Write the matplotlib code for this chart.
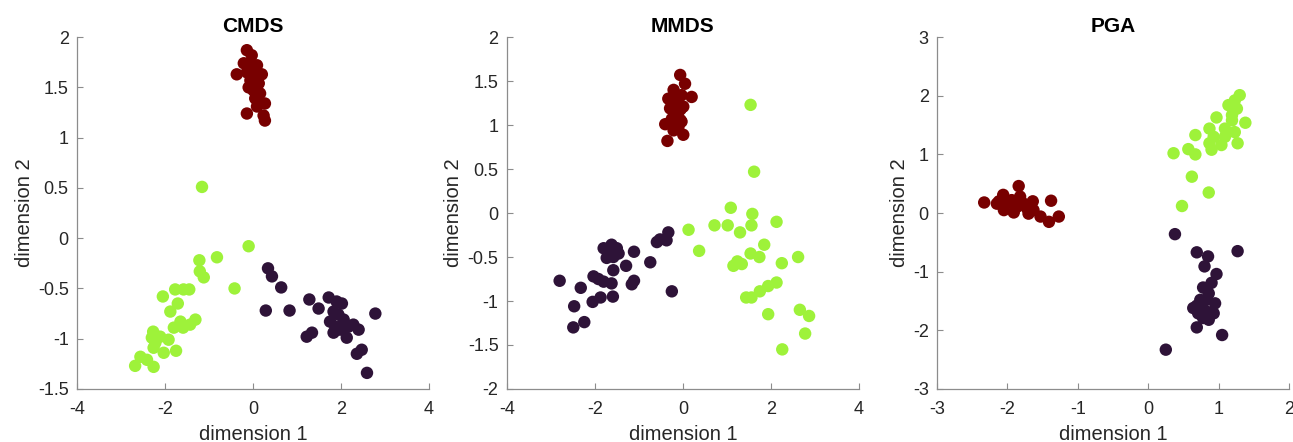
import numpy as np
import matplotlib
matplotlib.use("Agg")
import matplotlib.pyplot as plt

plt.rcParams['font.family'] = ['Liberation Sans', 'DejaVu Sans']

# colours of the three groups
c_red = '#780000'
c_purple = '#2e1338'
c_green = '#9ef23a'

# ---- CMDS ----
cmds_red_x = [-0.14, -0.03, -0.21, -0.10, 0.09, -0.37, -0.14, 0.01, 0.20, -0.06, 0.13, 0.01,
              0.16, 0.05, 0.27, -0.14, 0.24, 0.27, -0.03, -0.10, 0.09, 0.00, 0.05, 0.10]
cmds_red_y = [1.87, 1.82, 1.74, 1.72, 1.72, 1.63, 1.65, 1.64, 1.63, 1.57, 1.54, 1.47,
              1.44, 1.39, 1.34, 1.24, 1.22, 1.17, 1.60, 1.50, 1.31, 1.68, 1.55, 1.42]
cmds_green_x = [-1.16, -0.10, -1.22, -0.82, -1.21, -1.12, -0.42, -1.77, -1.58, -1.45, -2.05,
                -1.71, -1.88, -1.31, -1.65, -1.43, -1.59, -2.27, -2.11, -1.92, -2.22, -2.26,
                -2.03, -1.75, -2.56, -2.41, -2.68, -2.26, -2.30, -1.80]
cmds_green_y = [0.51, -0.08, -0.22, -0.19, -0.33, -0.39, -0.50, -0.51, -0.51, -0.51, -0.58,
                -0.65, -0.73, -0.81, -0.83, -0.86, -0.89, -0.93, -0.98, -1.01, -1.04, -1.09,
                -1.14, -1.12, -1.18, -1.21, -1.27, -1.28, -0.99, -0.89]
cmds_purple_x = [0.34, 0.43, 0.64, 1.28, 0.29, 0.83, 1.49, 1.72, 1.90, 1.83, 2.02, 1.75,
                 1.87, 1.98, 2.17, 1.83, 2.13, 2.40, 2.47, 2.36, 2.78, 1.34, 1.22, 2.59,
                 2.06, 2.28, 1.94]
cmds_purple_y = [-0.30, -0.38, -0.49, -0.61, -0.72, -0.72, -0.70, -0.59, -0.63, -0.73, -0.65,
                 -0.83, -0.88, -0.91, -0.88, -0.94, -0.99, -0.91, -1.11, -1.15, -0.75, -0.94,
                 -0.98, -1.34, -0.81, -0.86, -0.76]

# ---- MMDS ----
mmds_red_x = [-0.06, 0.05, -0.21, -0.03, 0.20, -0.33, -0.14, -0.29, 0.01, -0.18, -0.06,
              -0.40, -0.03, -0.21, 0.01, -0.35, -0.10, -0.25, -0.10, -0.12, -0.05]
mmds_red_y = [1.57, 1.47, 1.40, 1.34, 1.32, 1.30, 1.24, 1.19, 1.21, 1.11, 1.06, 1.01, 1.04,
              0.94, 0.89, 0.82, 0.98, 1.07, 1.15, 1.28, 1.18]
mmds_green_x = [1.54, 1.62, 1.09, 1.58, 2.13, 0.72, 1.02, 1.56, 0.13, 1.30, 1.85, 0.37,
                1.54, 1.74, 2.62, 2.25, 1.15, 1.34, 1.24, 2.13, 1.94, 1.75, 1.56, 1.44,
                2.66, 1.94, 2.87, 2.78, 2.26]
mmds_green_y = [1.23, 0.47, 0.06, -0.01, -0.10, -0.14, -0.14, -0.14, -0.19, -0.22, -0.36,
                -0.43, -0.46, -0.50, -0.50, -0.57, -0.60, -0.58, -0.55, -0.79, -0.83, -0.89,
                -0.96, -0.96, -1.10, -1.15, -1.17, -1.37, -1.55]
mmds_purple_x = [-0.33, -0.37, -0.59, -0.52, -1.11, -1.62, -1.80, -1.50, -1.73, -1.58,
                 -0.74, -1.29, -1.58, -2.03, -1.92, -1.80, -1.62, -1.11, -1.16, -2.80,
                 -2.32, -0.25, -1.87, -2.05, -1.59, -2.47, -2.24, -2.49, -1.65, -1.46]
mmds_purple_y = [-0.22, -0.31, -0.33, -0.30, -0.44, -0.36, -0.40, -0.40, -0.51, -0.50,
                 -0.56, -0.60, -0.65, -0.72, -0.75, -0.78, -0.80, -0.77, -0.81, -0.77,
                 -0.85, -0.89, -0.96, -1.01, -0.95, -1.06, -1.24, -1.30, -0.42, -0.46]

# ---- PGA ----
pga_red_x = [-2.33, -2.12, -2.06, -2.08, -2.05, -1.98, -1.91, -1.84, -1.82, -1.77, -1.72,
             -1.64, -1.63, -1.53, -1.41, -1.38, -1.27, -1.94, -2.15, -1.86, -1.70]
pga_red_y = [0.18, 0.20, 0.31, 0.14, 0.05, 0.18, 0.01, 0.46, 0.28, 0.16, 0.08, 0.20, 0.05,
             -0.06, -0.15, 0.21, -0.06, 0.22, 0.16, 0.11, -0.01]
pga_green_x = [1.30, 1.23, 1.14, 1.26, 0.97, 1.38, 1.19, 0.87, 1.09, 0.67, 1.23, 0.93,
               0.87, 1.04, 1.27, 0.90, 0.36, 0.57, 0.67, 0.62, 0.86, 0.48, 1.19, 1.09]
pga_green_y = [2.01, 1.92, 1.84, 1.78, 1.63, 1.54, 1.58, 1.44, 1.44, 1.33, 1.38, 1.30,
               1.19, 1.16, 1.19, 1.08, 1.02, 1.09, 1.00, 0.62, 0.35, 0.12, 1.67, 1.30]
pga_purple_x = [0.38, 0.69, 1.27, 0.85, 0.80, 0.97, 0.90, 0.78, 0.86, 0.69, 0.95, 0.76,
                0.83, 0.93, 0.64, 0.71, 0.78, 0.86, 0.69, 1.05, 0.25, 0.83, 0.74]
pga_purple_y = [-0.36, -0.67, -0.65, -0.74, -0.91, -1.04, -1.19, -1.27, -1.37, -1.58, -1.54,
                -1.62, -1.68, -1.71, -1.62, -1.71, -1.79, -1.82, -1.95, -2.08, -2.33, -1.48,
                -1.48]

panels = [
    ("CMDS", (-4, 4), (-1.5, 2), np.arange(-4, 5, 2), np.arange(-1.5, 2.01, 0.5),
     [(cmds_red_x, cmds_red_y, c_red), (cmds_green_x, cmds_green_y, c_green),
      (cmds_purple_x, cmds_purple_y, c_purple)]),
    ("MMDS", (-4, 4), (-2, 2), np.arange(-4, 5, 2), np.arange(-2, 2.01, 0.5),
     [(mmds_red_x, mmds_red_y, c_red), (mmds_green_x, mmds_green_y, c_green),
      (mmds_purple_x, mmds_purple_y, c_purple)]),
    ("PGA", (-3, 2), (-3, 3), np.arange(-3, 3, 1), np.arange(-3, 4, 1),
     [(pga_red_x, pga_red_y, c_red), (pga_green_x, pga_green_y, c_green),
      (pga_purple_x, pga_purple_y, c_purple)]),
]

fig = plt.figure(figsize=(12.93, 4.42), dpi=100)
lefts = [0.0596, 0.392, 0.7247]
for left, (title, xl, yl, xt, yt, groups) in zip(lefts, panels):
    ax = fig.add_axes([left, 0.12, 0.2722, 0.796])
    for gx, gy, col in groups:
        ax.scatter(gx, gy, s=80, color=col, edgecolors='none', clip_on=False)
    ax.set_xlim(*xl)
    ax.set_ylim(*yl)
    ax.set_xticks(xt)
    ax.set_yticks(yt)
    ax.set_xticklabels(['%g' % v for v in xt])
    ax.set_yticklabels(['%g' % v for v in yt])
    for s in ['top', 'right']:
        ax.spines[s].set_visible(False)
    for s in ['left', 'bottom']:
        ax.spines[s].set_color('#8c8c8c')
        ax.spines[s].set_linewidth(0.9)
    ax.tick_params(direction='in', length=4, color='#8c8c8c', labelsize=13,
                   labelcolor='#262626')
    ax.tick_params(axis='x', pad=9)
    ax.tick_params(axis='y', pad=6)
    ax.set_title(title, fontsize=15, fontweight='bold', pad=4)
    ax.set_xlabel('dimension 1', fontsize=14.5, color='#262626', labelpad=5)
    ax.set_ylabel('dimension 2', fontsize=14.5, color='#262626', labelpad=3)

fig.savefig('out.png', dpi=100)
